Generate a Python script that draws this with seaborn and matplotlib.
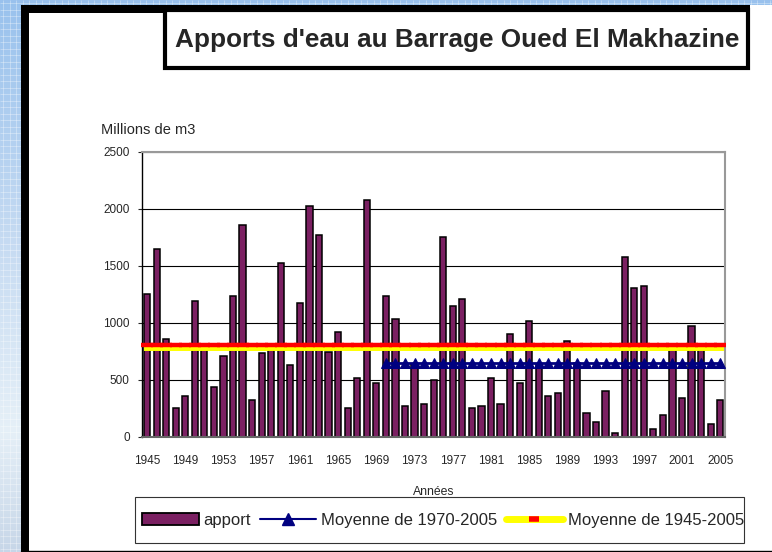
import numpy as np
import pandas as pd
import matplotlib
matplotlib.use("Agg")
import matplotlib.pyplot as plt
import matplotlib.transforms as mtransforms
from matplotlib.lines import Line2D
from matplotlib.patches import Rectangle, Patch
from matplotlib.legend_handler import HandlerTuple
import seaborn as sns

# ===============================
# DATA (Millions de m3)
# ===============================
years = list(range(1945, 2006))
apport = [1250, 1650, 860, 250, 360, 1190, 780, 440, 710, 1230,
          1860, 320, 730, 770, 1520, 630, 1170, 2020, 1765, 745,
          920, 250, 515, 2075, 475, 1230, 1035, 265, 640, 285,
          500, 1750, 1150, 1210, 250, 265, 515, 285, 900, 475,
          1015, 640, 360, 380, 840, 650, 205, 125, 400, 30,
          1575, 1305, 1325, 70, 190, 770, 340, 975, 770, 110, 320]

moy_45_05 = 790     # Moyenne de 1945-2005
moy_70_05 = 645     # Moyenne de 1970-2005
debut_recent = 1970

xtick_years = years[::4]
yticks = [0, 500, 1000, 1500, 2000, 2500]

labels = ["apport", "Moyenne de 1970-2005", "Moyenne de 1945-2005"]
title = "Apports d'eau au Barrage Oued El Makhazine"

BAR = "#7B2062"
NAVY = "#000080"

df = pd.DataFrame({"annee": years, "apport": apport})
df["moy_45_05"] = moy_45_05
df_recent = df[df["annee"] >= debut_recent].copy()
df_recent["moy_70_05"] = moy_70_05

sns.set_style("white")
plt.rcParams["font.family"] = ["Liberation Sans", "DejaVu Sans"]

W, H = 772, 552
fig = plt.figure(figsize=(W / 100, H / 100), dpi=100)

# ===============================
# BACKGROUND (slide look), pixel coords
# ===============================
bg = fig.add_axes([0, 0, 1, 1], zorder=0)
bg.set_xlim(0, W)
bg.set_ylim(H, 0)
bg.axis("off")

pos = [0, 0.45, 0.78, 1.0]
cols = np.array([[0.60, 0.76, 0.93],
                 [0.78, 0.86, 0.95],
                 [0.90, 0.94, 0.97],
                 [0.78, 0.84, 0.91]])
yy = np.linspace(0, 1, 200)
grad = np.stack([np.interp(yy, pos, cols[:, i]) for i in range(3)], axis=-1)[:, None, :]
bg.imshow(grad, extent=(0, W, H, 0), aspect="auto", zorder=0)
bg.vlines(np.arange(3, W, 6.5), 0, H, color="white", lw=0.5, alpha=0.45, zorder=1)
bg.hlines(np.arange(3, H, 6.5), 0, W, color="white", lw=0.5, alpha=0.45, zorder=1)

# white panel with black frame
bg.add_patch(Rectangle((21, 5), W - 21, H - 5, facecolor="white", edgecolor="none", zorder=2))
bg.add_patch(Rectangle((21, 5), 729, 7.5, facecolor="black", edgecolor="none", zorder=3))
bg.add_patch(Rectangle((21, 5), 7.5, H - 5, facecolor="black", edgecolor="none", zorder=3))
bg.plot([21, W], [550.5, 550.5], color="black", lw=1, zorder=3)

# title box
bg.add_patch(Rectangle((164.7, 10), 748 - 164.7, 67.5 - 10, facecolor="white",
                       edgecolor="black", lw=3, zorder=4))
bg.text(457, 40, title, ha="center", va="center", fontsize=18.8, fontweight="bold", zorder=5)

bg.text(101, 130, "Millions de m3", ha="left", va="center", fontsize=10.5, zorder=5)

# legend frame
bg.add_patch(Rectangle((135, 497), 609, 46, facecolor="white", edgecolor="#333333",
                       lw=0.8, zorder=4))

# ===============================
# MAIN CHART
# ===============================
ax = fig.add_axes([142.3 / W, 1 - 436.7 / H, (725 - 142.3) / W, (436.7 - 151.7) / H], zorder=2)
ax.set_facecolor("white")

sns.barplot(data=df, x="annee", y="apport", native_scale=True, width=0.65,
            color=BAR, saturation=1, edgecolor="black", linewidth=1.1,
            errorbar=None, ax=ax, zorder=2)

sns.lineplot(data=df, x="annee", y="moy_45_05", color="#FFFF00", lw=5,
             solid_capstyle="projecting", ax=ax, zorder=3)
ax.lines[-1].set_clip_on(False)

sns.lineplot(data=df, x="annee", y="moy_45_05", color="red", lw=0,
             marker="_", markersize=8, markeredgewidth=3.2, markeredgecolor="red",
             ax=ax, zorder=4)
red = ax.lines[-1]
red.set_clip_on(False)
red.set_transform(mtransforms.offset_copy(ax.transData, fig=fig, y=1.3, units="points"))

sns.lineplot(data=df_recent, x="annee", y="moy_70_05", color=NAVY, lw=2,
             marker="^", markersize=7, markeredgecolor=NAVY, markerfacecolor=NAVY,
             ax=ax, zorder=5)
ax.lines[-1].set_clip_on(False)

ax.set_xlim(years[0] - 0.5, years[-1] + 0.5)
ax.set_ylim(0, 2500)
ax.set_yticks(yticks)
ax.set_yticklabels([str(v) for v in yticks])
ax.set_xticks(xtick_years)
ax.set_xticklabels([str(y) for y in xtick_years])
ax.set_xticks(np.arange(years[0] - 0.5, years[-1] + 1, 1), minor=True)

ax.yaxis.grid(True, color="black", lw=0.8)
ax.xaxis.grid(False)
ax.set_axisbelow(True)

ax.tick_params(axis="x", which="major", length=0, pad=13, labelsize=8.5)
ax.tick_params(axis="x", which="minor", length=3, direction="in", color="#666666", width=0.8)
ax.tick_params(axis="y", length=3, width=0.8, pad=6, labelsize=8.5, left=True)

for s in ["top", "right"]:
    ax.spines[s].set_color("#999999")
    ax.spines[s].set_linewidth(1.5)
ax.spines["left"].set_color("black")
ax.spines["left"].set_linewidth(1)
ax.spines["bottom"].set_color("#666666")
ax.spines["bottom"].set_linewidth(1.5)

ax.set_xlabel("Années", fontsize=8.8, labelpad=14)
ax.set_ylabel("")

# ===============================
# LEGEND
# ===============================
h_bar = Patch(facecolor=BAR, edgecolor="black", linewidth=1.3)
h_blue = Line2D([], [], color=NAVY, lw=1.5, marker="^", markersize=8)
h_yel = Line2D([], [], color="#FFFF00", lw=5)
h_red = Line2D([], [], color="red", lw=0, marker="_", markersize=7, markeredgewidth=4)

leg = fig.legend([h_bar, h_blue, (h_yel, h_red)], labels,
                 handler_map={tuple: HandlerTuple(ndivide=1, pad=0)},
                 ncol=3, mode="expand", loc="center",
                 bbox_to_anchor=(142 / W, 1 - 543 / H, 602 / W, 46 / H),
                 bbox_transform=fig.transFigure,
                 fontsize=12, handlelength=3.4, handletextpad=0.3,
                 borderpad=0, borderaxespad=0, numpoints=1,
                 frameon=False)
leg.set_zorder(6)

fig.savefig("out.png", dpi=100)
